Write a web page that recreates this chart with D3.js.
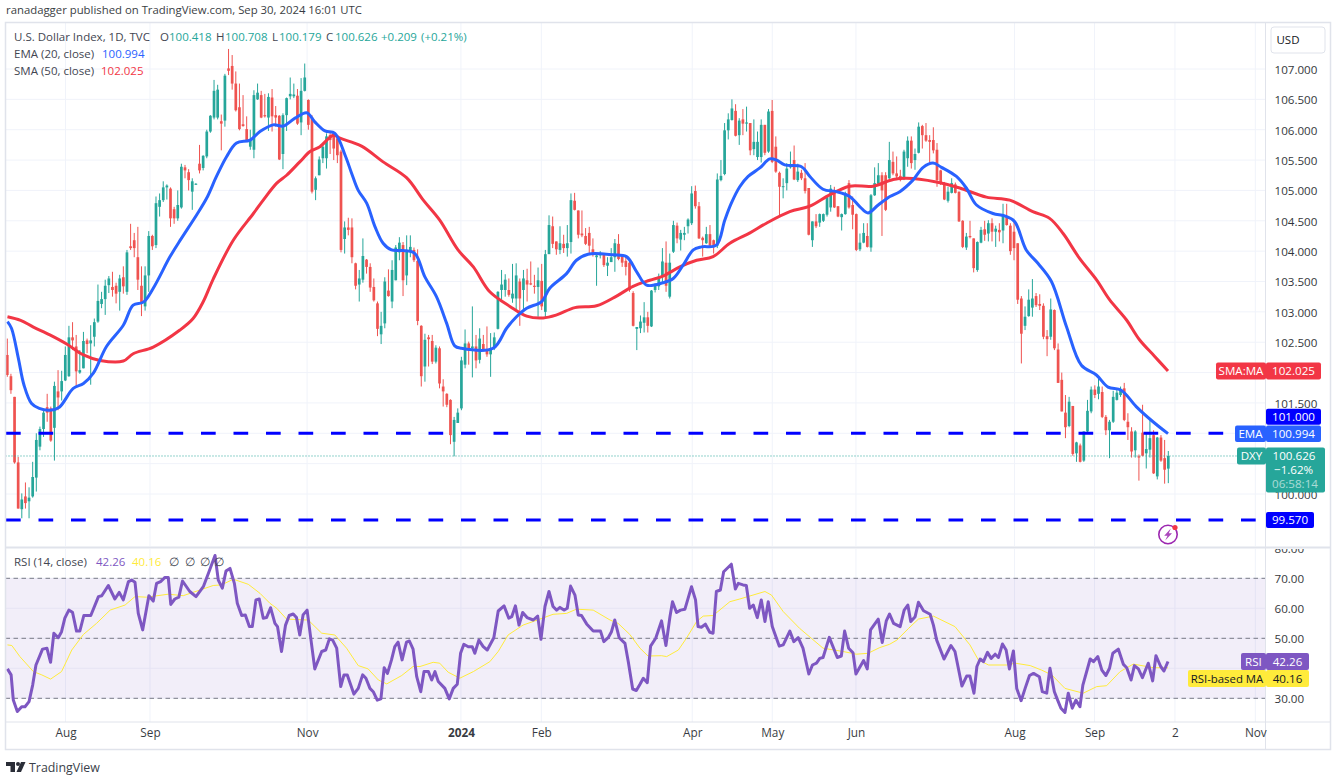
<!DOCTYPE html>
<html><head><meta charset="utf-8">
<script src="https://cdn.jsdelivr.net/npm/d3@7/dist/d3.min.js"></script>
<style>html,body{margin:0;padding:0;background:#fff;overflow:hidden}svg{display:block}text{font-family:"Open Sans","Noto Sans",sans-serif}</style>
</head><body><div id="c"></div>
<script>
const opens=[102.29,101.94,101.6,100.52,99.75,99.96,99.88,99.96,100.27,100.78,
101.07,101.43,101.41,101.09,101.69,101.69,101.87,101.94,102.58,102.43,
102.0,102.07,102.53,102.48,102.59,102.84,103.13,103.21,103.44,103.41,
103.43,103.33,103.57,103.33,104.08,104.18,103.9,103.43,103.09,103.6,
104.25,104.1,104.73,104.84,105.05,105.03,104.69,104.54,104.72,105.38,
105.3,104.98,105.1,105.44,105.37,105.56,105.97,106.2,106.2,106.14,
106.15,107.01,107.05,106.76,106.37,106.09,106.01,105.72,105.67,106.5,
106.57,106.24,106.2,106.53,106.24,106.23,105.6,106.24,106.55,106.55,
106.56,106.12,106.64,106.49,106.2,105.01,105.25,105.53,105.53,105.91,
105.94,105.86,105.64,104.2,104.39,104.39,103.8,103.45,103.53,103.86,
103.74,103.41,103.14,102.63,102.81,103.35,103.17,103.52,103.98,104.1,
103.6,103.99,104.02,103.84,102.77,102.1,102.58,102.52,102.18,102.4,
101.77,101.65,101.55,100.86,101.17,101.41,102.13,102.48,102.4,102.43,
102.21,102.47,102.37,102.3,102.4,102.72,103.36,103.36,103.36,103.22,
103.22,103.5,103.36,103.52,103.47,103.43,103.41,103.51,103.0,103.95,
104.41,104.16,104.02,104.12,104.05,104.15,104.83,104.67,104.29,104.25,
104.3,104.03,103.9,103.93,103.95,103.76,103.82,103.9,104.12,103.92,
103.84,103.81,103.31,102.72,102.73,102.82,102.91,102.76,103.36,103.42,
103.58,103.81,103.25,103.99,104.42,104.19,104.27,104.41,104.46,104.99,
104.74,104.22,104.13,104.28,104.18,104.09,105.17,105.27,105.99,106.16,
106.31,105.91,106.17,106.1,106.11,105.68,105.55,105.55,106.08,105.64,
106.31,105.72,105.29,105.06,105.12,105.38,105.5,105.17,105.29,105.2,
105.04,104.18,104.49,104.47,104.5,104.6,104.72,105.0,104.74,104.56,
104.61,105.12,104.76,104.61,104.03,104.14,104.25,104.06,104.92,105.11,
105.25,105.25,105.2,105.47,105.28,105.24,105.2,105.53,105.82,105.5,
105.62,106.06,105.91,105.83,105.83,105.67,105.33,105.12,104.83,104.96,
105.1,104.98,104.5,104.06,104.25,104.21,103.69,104.14,104.36,104.29,
104.46,104.32,104.35,104.34,104.57,104.42,104.32,104.13,103.22,102.77,
102.93,103.07,103.26,103.13,103.1,102.6,102.59,103.03,102.38,101.88,
101.34,101.12,101.45,100.67,100.8,100.55,101.03,101.36,101.72,101.65,
101.68,101.27,101.05,101.19,101.55,101.63,101.74,101.19,101.03,100.72,
100.62,101.01,100.67,100.73,100.97,100.29,100.93,100.59,100.418];
const highs=[102.56,101.98,101.6,100.61,100.01,100.19,100.11,100.53,101.0,101.11,
101.38,101.65,101.44,101.85,102.04,102.03,102.43,102.77,102.83,102.62,
102.37,102.67,102.56,102.78,102.89,103.45,103.33,103.53,103.59,103.66,
103.48,103.61,103.75,104.02,104.45,104.3,104.4,103.75,103.75,104.33,
104.27,104.9,104.95,105.15,105.1,105.05,104.73,105.0,105.44,105.42,
105.35,105.2,105.12,105.75,105.58,106.0,106.24,106.82,106.74,106.25,
106.92,107.33,107.23,106.96,106.76,106.57,106.22,106.0,106.65,106.76,
106.64,106.59,106.6,106.67,106.39,106.24,106.27,106.53,106.86,106.76,
106.67,106.85,107.09,106.5,106.24,105.23,105.56,105.75,105.94,105.95,
105.97,105.9,105.67,104.49,104.55,104.54,103.81,103.69,104.21,103.87,
103.8,103.55,103.17,103.0,103.57,103.7,103.85,104.1,104.23,104.15,
104.26,104.26,104.06,104.03,102.78,102.64,102.62,102.62,102.45,102.43,
101.89,101.66,101.56,101.27,101.41,102.26,102.71,102.51,103.09,102.62,
102.73,102.62,102.76,102.65,102.66,103.34,103.69,103.62,103.55,103.79,
103.8,103.55,103.69,103.71,103.83,103.61,103.73,103.79,104.02,104.59,
104.57,104.16,104.41,104.27,104.43,104.95,104.96,104.67,104.67,104.38,
104.4,104.21,103.96,104.0,103.97,103.9,104.05,104.2,104.28,103.93,
103.93,103.85,103.34,102.75,102.94,103.16,103.0,103.36,103.47,103.63,
104.05,104.16,103.96,104.5,104.47,104.35,104.4,104.54,105.07,105.08,
104.81,104.24,104.4,104.43,104.19,105.28,105.5,106.11,106.27,106.5,
106.42,106.19,106.34,106.38,106.11,106.17,105.97,106.17,106.08,106.34,
106.49,105.89,105.31,105.2,105.45,105.64,105.74,105.44,105.34,105.45,
105.04,104.49,104.61,104.62,104.62,104.9,105.09,105.06,104.74,104.62,
104.98,105.17,104.9,104.62,104.29,104.46,104.46,104.94,105.38,105.45,
105.3,105.3,105.8,105.64,105.56,105.34,105.67,105.89,105.89,105.69,
106.12,106.08,106.11,105.91,106.04,105.78,105.34,105.14,105.06,105.2,
105.13,104.98,104.51,104.3,104.5,104.21,104.16,104.4,104.5,104.51,
104.54,104.42,104.46,104.78,104.78,104.46,104.5,104.13,103.26,103.09,
103.37,103.54,103.31,103.29,103.14,102.7,103.22,103.04,102.48,102.0,
101.63,101.6,101.45,100.86,100.83,101.03,101.55,101.77,101.79,101.9,
101.77,101.3,101.22,101.7,101.72,101.77,101.83,101.33,101.1,101.05,
100.65,101.47,100.99,101.22,101.05,100.94,100.97,100.89,100.708];
const lows=[101.93,101.65,100.5,99.76,99.6,99.76,99.6,99.94,100.04,100.72,
100.94,101.19,100.86,100.55,101.38,101.54,101.86,101.93,102.37,101.78,
101.98,102.07,102.32,101.8,102.43,102.82,103.06,102.95,103.31,103.25,
103.14,103.02,103.3,103.28,104.02,103.9,103.36,102.93,103.02,103.33,
104.02,104.05,104.57,104.81,104.85,104.4,104.45,104.5,104.7,105.2,
105.0,104.68,105.09,105.28,105.33,105.53,105.95,106.17,106.17,105.66,
106.05,106.9,106.66,106.3,105.99,106.05,105.8,105.67,105.53,106.49,
106.19,106.2,105.98,105.97,106.05,105.5,105.35,105.98,106.5,106.52,
106.08,105.91,106.63,106.0,104.95,104.84,105.25,105.45,105.36,105.6,
105.5,105.45,103.98,103.96,104.26,103.8,103.37,103.17,103.48,103.63,
103.33,103.17,102.6,102.47,102.73,103.25,103.06,103.52,103.85,103.26,
103.44,103.9,103.82,102.78,101.77,101.85,102.1,102.14,102.15,101.74,
101.44,101.43,100.82,100.62,101.17,101.38,102.07,102.13,101.92,102.07,
102.15,102.35,102.26,101.93,102.37,102.71,103.2,103.25,103.25,103.15,
103.04,102.77,103.0,103.17,103.44,103.3,102.92,103.03,102.9,103.96,
104.05,103.94,103.95,103.97,103.91,103.96,104.67,104.21,104.23,104.1,
103.94,103.91,103.43,103.88,103.74,103.59,103.82,103.66,103.85,103.74,
103.6,103.33,102.76,102.37,102.65,102.66,102.66,102.75,103.32,103.36,
103.47,103.33,103.22,103.97,104.13,104.01,104.18,104.29,104.43,104.7,
104.2,103.91,104.12,104.05,103.96,104.05,105.15,105.25,105.84,106.15,
105.89,105.75,105.91,105.97,105.58,105.58,105.5,105.46,105.58,105.62,
105.45,105.29,104.57,104.87,105.0,105.36,105.17,105.14,105.17,104.95,
104.26,104.07,104.38,104.4,104.48,104.57,104.65,104.71,104.56,104.34,
104.6,104.7,104.36,104.0,104.0,104.13,104.06,103.99,104.91,105.09,
104.25,104.66,105.19,105.25,105.17,105.15,105.17,105.39,105.36,105.34,
105.61,105.69,105.8,105.45,105.61,105.06,105.09,104.84,104.8,104.95,
104.95,104.48,104.05,104.02,104.21,103.65,103.66,104.13,104.17,104.16,
104.16,104.07,104.16,104.13,104.42,103.94,103.85,103.13,102.15,102.7,
102.92,102.92,103.08,103.03,102.55,102.27,102.54,102.37,101.83,101.36,
100.92,101.1,100.63,100.53,100.52,100.53,101.0,101.33,101.58,101.56,
101.25,100.97,100.59,101.17,101.54,101.6,101.2,100.89,100.6,100.6,
100.22,100.62,100.42,100.6,100.33,100.24,100.53,100.17,100.179];
const closes=[101.96,101.71,100.52,99.76,99.91,99.85,99.94,100.28,100.89,101.07,
101.34,101.34,100.88,101.78,101.59,101.86,102.29,102.58,102.53,102.02,
102.04,102.52,102.47,102.53,102.83,103.18,103.21,103.43,103.55,103.36,
103.3,103.55,103.42,103.98,104.05,104.05,103.53,103.14,103.6,104.25,
104.08,104.79,104.84,105.05,105.08,104.54,104.54,104.76,105.39,105.33,
105.17,105.15,105.11,105.33,105.57,105.97,106.23,106.64,106.66,106.1,
106.89,106.97,106.76,106.32,106.01,106.06,105.82,105.83,106.57,106.61,
106.2,106.22,106.54,106.22,106.2,105.51,106.24,106.52,106.59,106.58,
106.1,106.64,106.86,106.08,104.98,105.2,105.51,105.72,105.89,105.83,
105.69,105.58,104.02,104.39,104.35,103.9,103.43,103.55,103.92,103.74,
103.4,103.19,102.72,102.77,103.5,103.26,103.69,104.06,104.14,103.52,
104.02,104.07,103.85,102.85,101.94,102.54,102.55,102.18,102.41,101.82,
101.69,101.47,100.97,101.22,101.34,102.2,102.48,102.4,102.43,102.2,
102.56,102.36,102.3,102.4,102.58,103.33,103.45,103.53,103.28,103.3,
103.6,103.22,103.55,103.45,103.45,103.41,103.52,103.09,103.95,104.43,
104.12,104.03,104.13,104.05,104.13,104.84,104.68,104.27,104.26,104.12,
104.09,103.96,103.93,103.96,103.77,103.81,103.9,104.13,103.87,103.81,
103.74,103.36,102.77,102.75,102.84,102.91,102.77,103.35,103.44,103.58,
103.83,103.43,103.81,104.43,104.21,104.3,104.3,104.52,104.95,104.74,
104.21,104.18,104.28,104.09,104.09,105.18,105.24,105.99,106.17,106.35,
105.9,106.15,106.1,106.12,105.66,105.8,105.8,106.08,105.62,106.3,
105.47,105.31,105.06,105.07,105.36,105.4,105.18,105.31,105.2,104.99,
104.27,104.49,104.41,104.61,104.61,104.89,105.03,104.72,104.57,104.61,
104.95,104.72,104.6,104.02,104.14,104.3,104.07,104.92,105.12,105.25,
105.0,104.68,105.5,105.28,105.23,105.17,105.64,105.82,105.45,105.6,
106.05,105.91,105.82,105.8,105.66,105.17,105.11,104.85,104.98,105.12,
104.96,104.49,104.07,104.24,104.23,103.72,104.15,104.35,104.27,104.46,
104.32,104.37,104.31,104.6,104.43,104.0,104.05,103.2,102.64,102.92,
103.2,103.22,103.11,103.1,102.59,102.55,103.04,102.4,101.83,101.36,
101.1,101.52,100.66,100.85,100.53,101.03,101.37,101.72,101.63,101.77,
101.27,101.05,101.19,101.6,101.67,101.73,101.22,101.1,100.7,101.03,
100.6,100.63,100.74,100.92,100.34,100.93,100.55,100.4,100.626];

// Indicators at their visible vertices: [bar, value]
const ema20=[[0.4,102.84],[1.5,102.73],[3.4,102.23],[4.9,101.8],[7,101.49],[9.1,101.41],[12,101.38],[14.6,101.43],[18.4,101.74],[21.2,101.82],[23.9,101.99],[27.5,102.43],[32.1,102.78],[34.8,103.11],[37.6,103.16],[40.3,103.39],[44.9,103.91],[48,104.21],[52.2,104.6],[54.9,104.87],[57.6,105.23],[60.4,105.56],[63.1,105.78],[66.8,105.83],[69.5,105.97],[73.1,106.08],[75.9,106.06],[79.1,106.19],[82.3,106.28],[84.5,106.13],[87.3,105.98],[90,105.94],[92.8,105.58],[94.6,105.28],[96.4,105],[98.7,104.79],[101,104.4],[103.2,104.13],[105.5,104.02],[108.7,104.01],[111.9,103.96],[114.6,103.58],[117.8,103.25],[120.6,102.81],[122.8,102.44],[124.6,102.4],[133.3,102.4],[137,102.73],[139.7,102.92],[142.5,103.06],[146.6,103.17],[148.8,103.39],[153.4,103.63],[156.1,103.85],[159.3,103.95],[166.2,103.94],[169.8,103.91],[172.6,103.66],[175.3,103.44],[179.8,103.48],[182.6,103.55],[185.3,103.77],[188.1,104.02],[190.3,104.07],[194.4,104.1],[196.7,104.51],[198.5,104.79],[200.8,105.06],[203.1,105.23],[206.3,105.37],[209,105.52],[210.9,105.5],[213.1,105.42],[217.7,105.39],[220,105.23],[223.6,105.02],[227.3,104.98],[230.9,104.9],[233.7,104.73],[235.9,104.63],[238.7,104.76],[241.9,104.9],[244.6,104.98],[248.2,105.17],[251,105.38],[253.7,105.45],[256,105.38],[260.1,105.23],[262.8,105.04],[265.6,104.76],[270.1,104.62],[273.3,104.58],[276,104.49],[279.2,104.02],[282.4,103.8],[286.1,103.5],[290.2,102.76],[294.3,102.12],[298.4,101.96],[301.6,101.76],[305.2,101.71],[309.3,101.44],[313.9,101.19],[318,100.994]];
const sma50=[[0.4,102.92],[4,102.86],[7.5,102.75],[12,102.62],[16.6,102.47],[21.2,102.29],[25.7,102.2],[32.1,102.19],[34.8,102.31],[40.3,102.42],[47.6,102.7],[51.2,102.89],[54,103.17],[56.7,103.54],[62.2,104.18],[67.7,104.62],[70.4,104.84],[74.1,105.12],[76.8,105.25],[80.4,105.47],[83.2,105.64],[85.9,105.72],[89.6,105.91],[91.4,105.86],[97.3,105.73],[103.2,105.47],[109.6,105.21],[114.2,104.84],[118.7,104.51],[123.7,104.02],[127.9,103.74],[132.4,103.33],[137.9,103.09],[142.5,102.93],[147,102.9],[150.7,102.95],[155.7,103.07],[161.6,103.1],[167.1,103.26],[171.6,103.42],[176.2,103.52],[179.8,103.59],[184.4,103.74],[189,103.85],[193.5,103.91],[198.1,104.13],[203.6,104.3],[208.1,104.46],[214.5,104.65],[220,104.74],[225.5,104.93],[230.9,105.07],[237.3,105.07],[242.8,105.18],[246.4,105.2],[254.6,105.14],[261,105.04],[268.3,104.89],[274.7,104.84],[281,104.65],[285.6,104.54],[289.3,104.29],[293.8,103.88],[298.4,103.53],[302,103.2],[306.6,102.87],[310.2,102.54],[314.3,102.27],[318,102.025]];
const rsi=[[0.4,39.8],[1.4,37.8],[2,29.4],[3.1,25.6],[4.3,27.2],[5.2,27.2],[6.3,28.9],[7.3,34.4],[8.2,41.1],[10,46.4],[11.2,46.7],[12.2,42],[13.1,51.7],[14.3,50.2],[15.2,52.2],[16.1,56.7],[17.2,59.4],[18.2,58.7],[19.3,52.4],[20.2,52.4],[21.3,57.6],[23.2,57.6],[25.3,63.9],[26.2,64.2],[28,67.6],[29.8,63.1],[31,65.3],[32.1,62.8],[33.5,68.9],[34.4,69.4],[35.3,68.7],[36.2,58.3],[37.4,52.8],[39.1,64.2],[40.3,62.4],[41.2,68.3],[42.3,68.9],[43.5,70.3],[44.4,70.3],[45.1,61.3],[46.2,63.1],[47.3,63.7],[48.3,69.1],[50.3,65.6],[52,63.9],[54,67.2],[55.4,71.7],[57.2,77.6],[58.1,69.4],[59.2,66.7],[60.2,72.4],[61.3,73.3],[62.5,68.3],[63.3,61.7],[64.5,57.6],[65.5,57.8],[66.6,53.9],[67.4,53.9],[68.4,62.8],[69.3,63.1],[70.4,56.7],[71.3,56.9],[72.4,60.2],[73.6,55],[74.3,53.9],[75.4,45.6],[76.5,54.4],[77.5,57.6],[78.6,58.1],[79.5,56.9],[80.4,51.1],[81.3,57.8],[82.4,59.4],[84.5,39.8],[86.4,45.6],[87.5,46.1],[88.5,49.8],[89.4,49.4],[90.5,46.7],[91.6,33.9],[92.5,37.8],[93.4,37.8],[95.2,31.4],[96.4,33.3],[97.6,37.8],[98.5,36.7],[99.6,33.3],[100.5,32.2],[101.6,29.4],[102.6,29.8],[103.5,40.2],[104.4,38.3],[105.5,42.8],[106.4,47.2],[107.3,48.7],[108.4,42.8],[109.6,48.7],[110.4,49.1],[111.4,46.4],[112.4,37.2],[113.5,32.2],[114.4,38.9],[115.6,38.9],[116.5,36.1],[117.4,38.9],[118.3,35.6],[120.1,33.3],[121.3,29.8],[122.4,33.3],[123.5,34.7],[124.4,45],[125.3,48],[126.5,47.2],[127.6,47.2],[128.3,45],[129.4,49.4],[130.6,47.2],[131.7,46.1],[133.5,50.2],[134.7,59.1],[136.3,60.8],[137.6,56.7],[138.4,57.2],[139.4,60.8],[140.4,54.4],[141.4,58.6],[142.6,56.9],[144.3,56.1],[145.5,57.4],[146.4,49.7],[147.5,60.6],[148.6,65.6],[149.7,60.6],[150.7,59.4],[151.6,60.3],[152.7,59.4],[153.6,60],[154.5,67.4],[155.7,64.4],[156.6,57.8],[157.5,57.6],[158.9,54.8],[160.7,52.4],[162.7,52.4],[163.6,48.9],[164.8,50.2],[165.7,52.2],[166.6,56.1],[167.8,50.2],[169.4,48.3],[170.3,42.2],[171.5,33.1],[172.5,32.6],[173.5,34.7],[174.4,36.7],[175.5,35.2],[176.4,47.4],[177.8,50],[179.4,55.8],[180.6,47.6],[181.7,57.2],[182.4,62.2],[183.5,58.6],[184.6,59.4],[185.8,59.7],[187.6,67.2],[188.7,62.8],[189.4,53.9],[190.3,53.7],[191.4,54.7],[192.6,52],[193.5,51.7],[194.4,65.6],[195.5,66.1],[196.4,72.2],[198.5,74.7],[199.6,66.4],[200.4,68.3],[201.7,67.8],[202.6,67.6],[203.5,60],[204.5,61.1],[205.6,56.9],[206.7,62.8],[207.7,55.6],[208.6,62.2],[209.7,53.9],[211.6,47.4],[212.7,47.8],[214.5,52.4],[215.6,48.9],[216.8,50.2],[218.1,46.7],[219.7,38.1],[220.7,41.1],[221.8,41.7],[222.7,43.3],[223.6,43.6],[225.3,50.3],[227.5,43.6],[228.6,44.1],[229.5,52.4],[230.6,46.7],[231.8,45.2],[232.6,38.1],[234.7,42.6],[235.7,39.8],[236.6,52.8],[238.7,56.4],[239.8,48.6],[240.9,55.8],[241.8,58.1],[242.9,55],[244.7,53.9],[245.8,59.4],[246.8,61.1],[247.6,55.6],[248.8,57.2],[249.7,62],[251.1,59.2],[252.9,58],[253.8,54.4],[254.7,49.4],[256.7,43.1],[258.6,47.6],[259.7,45.6],[261.6,34.1],[262.9,37.4],[263.8,37.4],[264.9,31.7],[265.7,40.6],[266.6,43.1],[267.5,42.2],[268.6,45.3],[269.6,43.3],[270.7,44.7],[271.6,43.6],[272.7,48.1],[273.7,46.1],[274.6,39.8],[275.7,45.8],[276.6,33.3],[277.8,29.2],[278.9,33.3],[280.1,37.6],[281.2,38.3],[282.8,37.2],[283.6,32.2],[284.8,31.7],[285.7,40],[286.9,32.2],[287.8,29.4],[288.7,26.7],[289.8,25.3],[290.7,31.7],[291.8,26.7],[292.8,29.4],[293.9,27.2],[294.7,34.4],[296.7,43.1],[297.6,42.2],[298.8,43.9],[299.9,39.4],[301,37.6],[302,40],[302.9,45],[304.4,46.4],[305.8,41.3],[306.7,40.2],[307.9,36.1],[308.8,40.9],[309.9,39.8],[311,36.9],[312.6,41.7],[313.8,35.8],[314.7,44.2],[316,40.6],[316.9,39.1],[318,42.26]];
const rsiMa=[[0.4,47.8],[1.6,47.6],[3.8,43.9],[7.5,38.9],[9.8,37.8],[12.2,36.4],[15.2,38.9],[18,46.1],[21.2,51.3],[24.8,55],[28.5,59.4],[32.6,61.1],[35.3,63.9],[38.5,63.7],[44.4,64.7],[48.5,64.2],[53.1,66.1],[56.7,67.6],[59,67.8],[62.2,69.7],[66.3,68],[69.5,65],[72.2,61.7],[74.1,60],[76.8,56.4],[82.7,56.1],[86.4,51.7],[90,51.1],[93.2,46.7],[96.4,40.9],[99.1,39.8],[101.9,36.1],[104.2,34.8],[108.3,37.6],[111.4,40.6],[113.3,40.6],[116.9,42],[118.7,41.7],[121,38.7],[124.2,36.7],[127.9,38.9],[132.4,42.2],[134.7,45.6],[137.4,51.1],[141.5,54.4],[146.1,56.4],[149.7,58],[153.4,58.3],[156.1,59.7],[160.7,59.4],[165.3,56.1],[167.5,55],[170.7,51.3],[173.5,46.7],[175.7,44.1],[179.4,44.2],[180.8,43.9],[184,46.1],[186.2,50],[189,55.6],[190.8,57.4],[193.5,57.6],[198.1,62.2],[200.8,63.1],[207.7,65.6],[209.5,64.4],[212.7,58.9],[217.2,53.3],[220.4,50],[223.6,46.7],[229.1,45.6],[232.7,44.7],[235.9,45],[239.1,46.9],[241.8,48],[243.8,49.4],[247,53.3],[249.7,56.4],[253.8,57.4],[259.7,53.9],[263.8,47.8],[266.1,42.8],[268.9,41.1],[273.9,41.1],[276.2,41.7],[280.3,40.9],[283.4,39.4],[286.2,37.8],[289.8,33.3],[294.8,31.7],[298.5,33.9],[301.2,34.2],[304.9,38.9],[308.5,41.4],[314,40.2],[318,40.16]];

const priceTicks=[100,100.5,101,101.5,102,102.5,103,103.5,104,104.5,105,105.5,106,106.5,107];
const priceTicksHidden=[100.5,101,102];
const rsiTicks=[30,40,50,60,70,80];
const rsiTicksHidden=[40];
const timeBars=[16.3,39.4,82.4,124.5,146.5,187.8,209.7,232.6,276,297.9,319.9,341.9];
const timeLabels=["Aug","Sep","Nov","2024","Feb","Apr","May","Jun","Aug","Sep","2","Nov"];
const supportLevels=[101,99.57];
const lastClose=100.626, emaLast=100.994, smaLast=102.025, rsiLast=42.26, rsiMaLast=40.16;

const W=1337,H=781,L=5.5,AX=1265.5,R=1330.5;
const UP="#26a69a",DN="#ef5350",BLUE="#2962ff",SMA="#f23645",PUR="#7e57c2",INK="#131722",GRID="#f0f3fa",FRAME="#e0e3eb";
const xc=d3.scaleLinear().domain([0,16,92,147,233,277,318]).range([7.3,65.3,341,541.7,856.3,1017.7,1168.3]);
const x=d3.scaleLinear().domain([0,318]).range([6,1168]);
const y=d3.scaleLinear().domain([100,107]).range([494,69]);
const yR=d3.scaleLinear().domain([30,70]).range([698.3,578.3]);
const svg=d3.select("#c").append("svg").attr("width",W).attr("height",H);

svg.append("text").attr("x",6).attr("y",14).attr("font-size",11.35).attr("fill",INK).attr("opacity",.85)
 .text("ranadagger published on TradingView.com, Sep 30, 2024 16:01 UTC");

const defs=svg.append("defs");
defs.append("clipPath").attr("id","main").append("rect").attr("x",L).attr("y",23).attr("width",AX-L).attr("height",523);
defs.append("clipPath").attr("id","lower").append("rect").attr("x",L).attr("y",549).attr("width",R-L).attr("height",173);

// grids
const g=svg.append("g");
g.selectAll(".hg").data(priceTicks).join("line").attr("x1",L).attr("x2",AX).attr("y1",d=>y(d)).attr("y2",d=>y(d)).attr("stroke",GRID);
g.selectAll(".vg").data(timeBars).join("line").attr("x1",d=>x(d)).attr("x2",d=>x(d)).attr("y1",23).attr("y2",546).attr("stroke",GRID);
g.selectAll(".vg2").data(timeBars).join("line").attr("x1",d=>x(d)).attr("x2",d=>x(d)).attr("y1",549).attr("y2",722).attr("stroke",GRID);

// RSI band
svg.append("rect").attr("x",L).attr("width",AX-L).attr("y",yR(70)).attr("height",yR(30)-yR(70)).attr("fill","#7e57c2").attr("opacity",.1);
g.selectAll(".rg").data(rsiTicks.filter(v=>v!==80)).join("line").attr("x1",L).attr("x2",AX).attr("y1",d=>yR(d)).attr("y2",d=>yR(d)).attr("stroke",GRID).attr("opacity",.8);
svg.selectAll(".rd").data([70,50,30]).join("line").attr("x1",L).attr("x2",AX).attr("y1",d=>yR(d)).attr("y2",d=>yR(d)).attr("stroke","#787b86").attr("stroke-dasharray","4.5 3.5");

// candles
const main=svg.append("g").attr("clip-path","url(#main)");
const bars=d3.range(closes.length);
const col=i=>closes[i]>=opens[i]?UP:DN;
main.selectAll(".w").data(bars).join("line").attr("x1",xc).attr("x2",xc).attr("y1",i=>y(highs[i])).attr("y2",i=>y(lows[i])).attr("stroke",col).attr("stroke-width",1);
main.selectAll(".b").data(bars).join("rect").attr("x",i=>xc(i)-1.35).attr("width",2.7)
 .attr("y",i=>y(Math.max(opens[i],closes[i])))
 .attr("height",i=>Math.max(1,Math.abs(y(opens[i])-y(closes[i])))).attr("fill",col);

// last price dotted line
main.append("line").attr("x1",L).attr("x2",AX).attr("y1",y(lastClose)).attr("y2",y(lastClose)).attr("stroke",UP).attr("stroke-dasharray","1 2");

// EMA / SMA
const ln=d3.line().x(d=>x(d[0])).y(d=>y(d[1])).curve(d3.curveCatmullRom.alpha(0.5));
main.append("path").attr("d",ln(sma50)).attr("fill","none").attr("stroke",SMA).attr("stroke-width",3).attr("stroke-linejoin","round");
main.append("path").attr("d",ln(ema20)).attr("fill","none").attr("stroke",BLUE).attr("stroke-width",3).attr("stroke-linejoin","round");

// support/resistance
main.selectAll(".sr").data(supportLevels).join("line").attr("x1",6).attr("x2",1256).attr("y1",d=>y(d)).attr("y2",d=>y(d)).attr("stroke","#0000ff").attr("stroke-width",3).attr("stroke-dasharray","14.7 17.8");

// RSI
const lower=svg.append("g").attr("clip-path","url(#lower)");
const lr=d3.line().x(d=>x(d[0])).y(d=>yR(d[1]));
lower.append("path").attr("d",lr(rsiMa)).attr("fill","none").attr("stroke","#ffeb3b").attr("stroke-width",1);
lower.append("path").attr("d",lr(rsi)).attr("fill","none").attr("stroke",PUR).attr("stroke-width",3).attr("stroke-linejoin","round");

// frame
const fr=svg.append("g").attr("stroke",FRAME).attr("fill","none");
fr.append("rect").attr("x",L).attr("y",22.5).attr("width",R-L).attr("height",727).attr("stroke-width",1.5);
fr.append("line").attr("x1",AX).attr("x2",AX).attr("y1",22.5).attr("y2",749.5);
fr.append("line").attr("x1",L).attr("x2",R).attr("y1",547.5).attr("y2",547.5).attr("stroke-width",2);
fr.append("line").attr("x1",L).attr("x2",R).attr("y1",722).attr("y2",722);

// axes
const ff=d3.format(".3f"), f2=d3.format(".2f");
const ax=svg.append("g").attr("transform",`translate(${AX},0.7)`).call(d3.axisRight(y).tickValues(priceTicks.filter(v=>!priceTicksHidden.includes(v))).tickFormat(ff).tickSize(0).tickPadding(9));
ax.select(".domain").remove(); ax.selectAll("text").attr("font-size",11.6).attr("fill",INK).attr("font-family","Open Sans").attr("opacity",.88);
const axR=svg.append("g").attr("clip-path","url(#lower)").append("g").attr("transform",`translate(${AX},0.5)`).call(d3.axisRight(yR).tickValues(rsiTicks.filter(v=>!rsiTicksHidden.includes(v))).tickFormat(f2).tickSize(0).tickPadding(9));
axR.select(".domain").remove(); axR.selectAll("text").attr("font-size",11.6).attr("fill",INK).attr("font-family","Open Sans").attr("opacity",.88);
const axT=svg.append("g").attr("transform","translate(0,722)").call(d3.axisBottom(x).tickValues(timeBars).tickFormat((d,i)=>timeLabels[i]).tickSize(0).tickPadding(7));
axT.select(".domain").remove(); axT.selectAll("text").attr("font-size",11.8).attr("fill",INK).attr("font-family","Open Sans").attr("opacity",.85).attr("font-weight",(d,i)=>timeLabels[i]==="2024"?700:400);

// USD button
svg.append("rect").attr("x",1271).attr("y",27).attr("width",54).attr("height",26).attr("rx",3).attr("fill","#fff").attr("stroke",FRAME);
svg.append("text").attr("x",1288).attr("y",44).attr("font-size",11.5).attr("text-anchor","middle").attr("fill",INK).text("USD");

// price tags
function tag(x0,x1,yc,h,fill,txt,opts={}){
 svg.append("rect").attr("x",x0).attr("y",yc-h/2).attr("width",x1-x0).attr("height",h).attr("rx",2).attr("fill",fill);
 if(txt) svg.append("text").attr("x",x0+(x1-x0)/2).attr("y",yc+4.2).attr("text-anchor","middle").attr("font-size",opts.fs??11.6).attr("fill",opts.color??"#fff").text(txt);
}
tag(1216,1266,y(smaLast),17,SMA,"SMA:MA");
tag(1266,1321,y(smaLast),17,SMA,ff(smaLast));
tag(1266,1321,y(101)-16.5,16,"#0000ff",ff(101));
tag(1235,1266,y(emaLast),16.5,BLUE,"EMA");
tag(1266,1321,y(emaLast),16.5,BLUE,ff(emaLast));
tag(1237,1266,y(lastClose),17,UP,"DXY");
svg.append("rect").attr("x",1266).attr("y",y(lastClose)-8.5).attr("width",59).attr("height",45).attr("rx",2).attr("fill",UP);
svg.append("text").attr("x",1294).attr("y",y(lastClose)+4.2).attr("text-anchor","middle").attr("font-size",11.6).attr("fill","#fff").text(ff(lastClose));
svg.append("text").attr("x",1274).attr("y",y(lastClose)+18).attr("font-size",11.6).attr("fill","#fff").text("−1.62%");
svg.append("text").attr("x",1295).attr("y",y(lastClose)+32).attr("text-anchor","middle").attr("font-size",11.6).attr("fill","#fff").attr("opacity",.6).text("06:58:14");
tag(1266,1314,y(99.57),16,"#0000ff",ff(99.57));
tag(1241,1266,661.5,17,PUR,"RSI");
tag(1266,1309,661.5,17,PUR,f2(rsiLast));
tag(1188,1266,678.5,17,"#ffeb3b","RSI-based MA",{color:INK,fs:11.4});
tag(1266,1309,678.5,17,"#ffeb3b",f2(rsiMaLast),{color:INK});

// legend
function seq(yb,parts){parts.forEach(p=>svg.append("text").attr("x",p[0]).attr("y",yb).attr("font-size",11.5).attr("fill",p[2]).text(p[1]));}
const T="#434651";
seq(41,[[14,"U.S. Dollar Index, 1D, TVC",T],[160,"O",T],[169,"100.418",UP],[216,"H",T],[225,"100.708",UP],[272,"L",T],[279,"100.179",UP],[326,"C",T],[335,"100.626",UP],[381,"+0.209",UP],[421,"(+0.21%)",UP]]);
seq(58,[[14,"EMA (20, close)",T],[102,"100.994",BLUE]]);
seq(75,[[14,"SMA (50, close)",T],[101,"102.025",SMA]]);
seq(566,[[14,"RSI (14, close)",T],[96,"42.26",PUR],[132,"40.16","#ffeb3b"],[169,"∅",T],[185,"∅",T],[200,"∅",T],[214,"∅",T]]);

// alert bolt icon
const ic=svg.append("g").attr("transform","translate(1168,534.5)");
ic.append("circle").attr("r",9.2).attr("fill","#fff").attr("stroke","#9c27b0").attr("stroke-width",1.6);
ic.append("path").attr("d","M2.8,-6 L-3.8,1.2 L-0.5,1.2 L-2.8,6 L4,-1.2 L0.8,-1.2 Z").attr("fill","#ab47bc");
ic.append("circle").attr("cx",7).attr("cy",-7).attr("r",2.6).attr("fill","#f23645");

// TradingView mark
const tv=svg.append("g").attr("fill",INK).attr("opacity",.9);
tv.append("path").attr("d","M6,762 H15 V772 H10.5 V766 H6 Z");
tv.append("circle").attr("cx",18).attr("cy",764).attr("r",2);
tv.append("path").attr("d","M21,762 H25.5 L21,772 H16.5 Z");
svg.append("text").attr("x",29).attr("y",771.5).attr("font-size",12.4).attr("font-weight",500).attr("fill","#3b3f4a").text("TradingView");
</script></body></html>
